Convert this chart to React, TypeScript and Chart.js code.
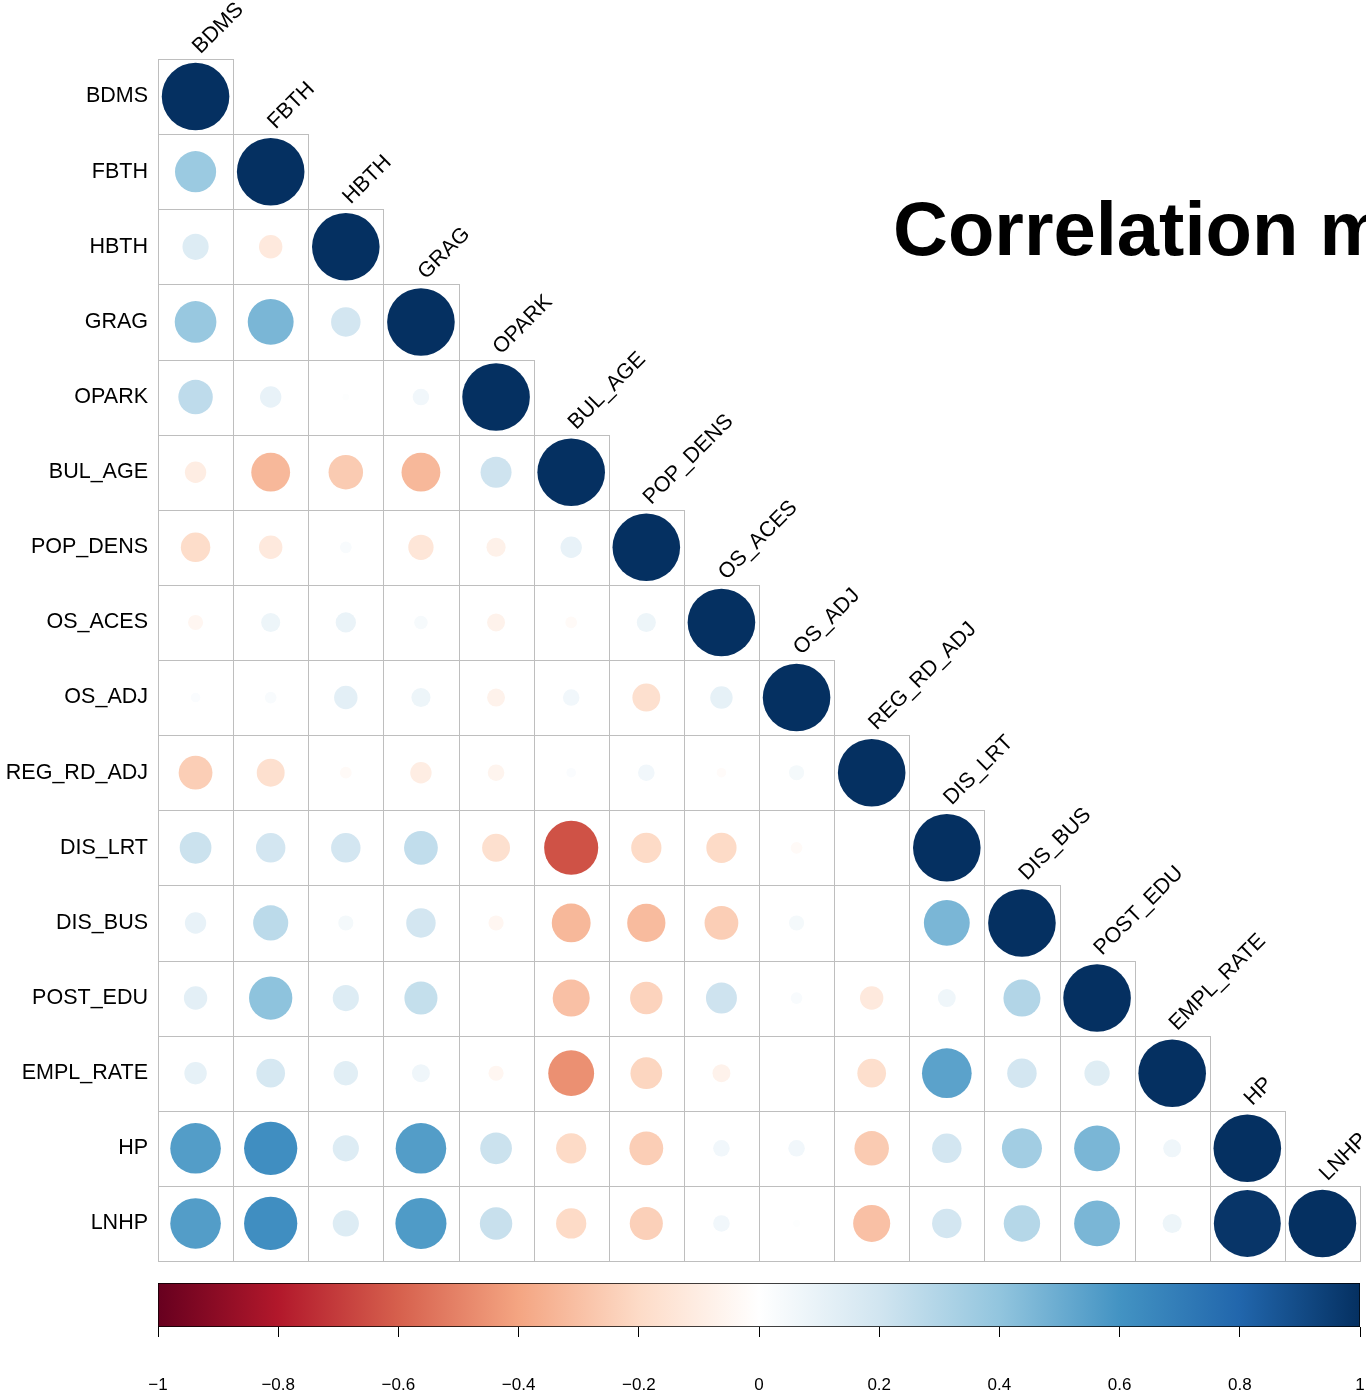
import { useEffect, useRef } from 'react';
import { Chart, registerables } from 'chart.js';

Chart.register(...registerables);

// Variable names (rows top-to-bottom, columns left-to-right)
const varNames = [
  'BDMS', 'FBTH', 'HBTH', 'GRAG', 'OPARK', 'BUL_AGE', 'POP_DENS', 'OS_ACES',
  'OS_ADJ', 'REG_RD_ADJ', 'DIS_LRT', 'DIS_BUS', 'POST_EDU', 'EMPL_RATE', 'HP', 'LNHP',
];

// Lower-triangle correlation coefficients, one row per variable (diagonal included)
const corrBDMS = [1];
const corrFBTH = [0.37, 1];
const corrHBTH = [0.15, -0.12, 1];
const corrGRAG = [0.38, 0.46, 0.19, 1];
const corrOPARK = [0.26, 0.1, 0.01, 0.06, 1];
const corrBUL_AGE = [-0.1, -0.33, -0.26, -0.33, 0.21, 1];
const corrPOP_DENS = [-0.19, -0.12, 0.03, -0.14, -0.08, 0.1, 1];
const corrOS_ACES = [-0.05, 0.08, 0.09, 0.04, -0.07, -0.03, 0.08, 1];
const corrOS_ADJ = [0.02, 0.03, 0.12, 0.08, -0.07, 0.06, -0.17, 0.11, 1];
const corrREG_RD_ADJ = [-0.25, -0.17, -0.03, -0.1, -0.06, 0.02, 0.06, -0.02, 0.05, 1];
const corrDIS_LRT = [0.22, 0.19, 0.19, 0.25, -0.17, -0.64, -0.2, -0.2, -0.03, 0.0, 1];
const corrDIS_BUS = [0.1, 0.27, 0.05, 0.19, -0.05, -0.33, -0.32, -0.25, 0.05, 0.0, 0.46, 1];
const corrPOST_EDU = [0.12, 0.41, 0.15, 0.24, 0.0, -0.3, -0.23, 0.21, 0.03, -0.12, 0.07, 0.3, 1];
const corrEMPL_RATE = [0.11, 0.18, 0.13, 0.07, -0.05, -0.46, -0.22, -0.07, 0.0, -0.18, 0.54, 0.19, 0.14, 1];
const corrHP = [0.56, 0.62, 0.15, 0.56, 0.22, -0.2, -0.25, 0.06, 0.06, -0.26, 0.19, 0.35, 0.46, 0.07, 1];
const corrLNHP = [0.56, 0.62, 0.15, 0.57, 0.23, -0.2, -0.24, 0.06, 0.01, -0.3, 0.19, 0.29, 0.46, 0.08, 0.98, 1];

const corrRows = [
  corrBDMS, corrFBTH, corrHBTH, corrGRAG, corrOPARK, corrBUL_AGE, corrPOP_DENS, corrOS_ACES,
  corrOS_ADJ, corrREG_RD_ADJ, corrDIS_LRT, corrDIS_BUS, corrPOST_EDU, corrEMPL_RATE, corrHP, corrLNHP,
];

// Diverging red-white-blue palette from -1 to 1
const palette = [
  '#67001F', '#B2182B', '#D6604D', '#F4A582', '#FDDBC7', '#FFFFFF',
  '#D1E5F0', '#92C5DE', '#4393C3', '#2166AC', '#053061',
];

// Colour bar ticks
const colorbarValues = [-1, -0.8, -0.6, -0.4, -0.2, 0, 0.2, 0.4, 0.6, 0.8, 1];
const colorbarLabels = ['\u22121', '\u22120.8', '\u22120.6', '\u22120.4', '\u22120.2', '0', '0.2', '0.4', '0.6', '0.8', '1'];

const titleText = 'Correlation matrix';

const FONT = '"Liberation Sans", Arial, Helvetica, sans-serif';

function hexToRgb(h: string) {
  const n = parseInt(h.slice(1), 16);
  return [(n >> 16) & 255, (n >> 8) & 255, n & 255];
}

function colorFor(v: number) {
  const t = ((Math.max(-1, Math.min(1, v)) + 1) / 2) * (palette.length - 1);
  const i = Math.min(Math.floor(t), palette.length - 2);
  const f = t - i;
  const a = hexToRgb(palette[i]);
  const b = hexToRgb(palette[i + 1]);
  const c = a.map((av, k) => Math.round(av + (b[k] - av) * f));
  return `rgb(${c[0]},${c[1]},${c[2]})`;
}

// Cell outlines for the lower triangle
const cellGridPlugin = {
  id: 'cellGrid',
  beforeDatasetsDraw(chart: any) {
    const { ctx } = chart;
    const xs = chart.scales.x;
    const ys = chart.scales.y;
    const cw = xs.getPixelForValue(1) - xs.getPixelForValue(0);
    const ch = ys.getPixelForValue(1) - ys.getPixelForValue(0);
    ctx.save();
    ctx.strokeStyle = '#BEBEBE';
    ctx.lineWidth = 1;
    for (let i = 0; i < varNames.length; i++) {
      for (let j = 0; j <= i; j++) {
        const l = Math.round(xs.getPixelForValue(j) - cw / 2);
        const r = Math.round(xs.getPixelForValue(j) + cw / 2);
        const t = Math.round(ys.getPixelForValue(i) - ch / 2);
        const b = Math.round(ys.getPixelForValue(i) + ch / 2);
        ctx.strokeRect(l + 0.5, t + 0.5, r - l, b - t);
      }
    }
    ctx.restore();
  },
};

// Rotated column labels above the diagonal, plus the title
const labelsPlugin = {
  id: 'matrixLabels',
  afterDraw(chart: any) {
    const { ctx } = chart;
    const xs = chart.scales.x;
    const ys = chart.scales.y;
    const ch = ys.getPixelForValue(1) - ys.getPixelForValue(0);
    ctx.save();
    ctx.fillStyle = '#000';
    ctx.font = `21.5px ${FONT}`;
    ctx.textAlign = 'left';
    ctx.textBaseline = 'alphabetic';
    varNames.forEach((name, j) => {
      const xc = xs.getPixelForValue(j);
      const top = ys.getPixelForValue(j) - ch / 2;
      ctx.save();
      ctx.translate(xc + 5, top - 4.5);
      ctx.rotate(-Math.PI / 4);
      ctx.fillText(name, 0, 0);
      ctx.restore();
    });
    ctx.font = `bold 76px ${FONT}`;
    ctx.fillText(titleText, 893, 255);
    ctx.restore();
  },
};

export default function App() {
  const matrixRef = useRef<HTMLCanvasElement>(null);
  const barRef = useRef<HTMLCanvasElement>(null);

  useEffect(() => {
    const points: { x: number; y: number; v: number }[] = [];
    corrRows.forEach((row, i) => row.forEach((v, j) => points.push({ x: j, y: i, v })));

    const matrix = new Chart(matrixRef.current as HTMLCanvasElement, {
      type: 'scatter',
      data: {
        datasets: [
          {
            data: points as any,
            showLine: false,
            pointBackgroundColor: (ctx: any) => (ctx.raw ? colorFor(ctx.raw.v) : 'rgba(0,0,0,0)'),
            pointBorderWidth: 0,
            pointHoverBorderWidth: 0,
            pointRadius: (ctx: any) => {
              if (!ctx.raw) return 0;
              const xs = ctx.chart.scales.x;
              const cell = Math.abs(xs.getPixelForValue(1) - xs.getPixelForValue(0));
              if (!isFinite(cell)) return 0;
              return 0.45 * cell * Math.sqrt(Math.abs(ctx.raw.v));
            },
            pointHoverRadius: (ctx: any) => {
              if (!ctx.raw) return 0;
              const xs = ctx.chart.scales.x;
              const cell = Math.abs(xs.getPixelForValue(1) - xs.getPixelForValue(0));
              if (!isFinite(cell)) return 0;
              return 0.45 * cell * Math.sqrt(Math.abs(ctx.raw.v));
            },
          } as any,
        ],
      },
      options: {
        animation: false,
        responsive: false,
        events: [],
        layout: { padding: { left: 0, right: 6, top: 59, bottom: 134 } },
        plugins: { legend: { display: false }, tooltip: { enabled: false } },
        scales: {
          x: { type: 'linear', min: -0.5, max: 15.5, display: false },
          y: {
            type: 'linear',
            min: -0.5,
            max: 15.5,
            reverse: true,
            position: 'left',
            afterBuildTicks: (axis: any) => {
              axis.ticks = varNames.map((_, i) => ({ value: i }));
            },
            afterFit: (axis: any) => {
              axis.width = 158;
            },
            grid: { display: false, drawTicks: false, tickLength: 0 },
            border: { display: false },
            ticks: {
              autoSkip: false,
              padding: 10,
              color: '#000',
              font: { family: FONT, size: 21.5 },
              callback: (value: any) => varNames[value] ?? '',
            },
          },
        },
      } as any,
      plugins: [cellGridPlugin, labelsPlugin],
    });

    const bar = new Chart(barRef.current as HTMLCanvasElement, {
      type: 'bar',
      data: {
        labels: [''],
        datasets: [
          {
            data: [[-1, 1]] as any,
            backgroundColor: (ctx: any) => {
              const area = ctx.chart.chartArea;
              if (!area) return '#fff';
              const g = ctx.chart.ctx.createLinearGradient(area.left, 0, area.right, 0);
              palette.forEach((c, k) => g.addColorStop(k / (palette.length - 1), c));
              return g;
            },
            borderColor: '#000',
            borderWidth: 1,
            borderSkipped: false,
            barPercentage: 1,
            categoryPercentage: 1,
          } as any,
        ],
      },
      options: {
        indexAxis: 'y',
        animation: false,
        responsive: false,
        events: [],
        layout: { padding: { left: 158, right: 6, top: 13, bottom: 0 } },
        plugins: { legend: { display: false }, tooltip: { enabled: false } },
        scales: {
          x: {
            type: 'linear',
            min: -1,
            max: 1,
            position: 'bottom',
            afterBuildTicks: (axis: any) => {
              axis.ticks = colorbarValues.map((v) => ({ value: v }));
            },
            afterFit: (axis: any) => {
              axis.height = 68;
              axis.paddingLeft = 0;
              axis.paddingRight = 0;
            },
            grid: { drawOnChartArea: false, drawTicks: true, tickLength: 10, color: '#000', lineWidth: 1 },
            border: { display: false },
            ticks: {
              autoSkip: false,
              maxRotation: 0,
              padding: 38,
              color: '#000',
              font: { family: FONT, size: 17 },
              callback: (_v: any, i: number) => colorbarLabels[i],
            },
          },
          y: { display: false },
        },
      } as any,
    });

    return () => {
      matrix.destroy();
      bar.destroy();
    };
  }, []);

  return (
    <div style={{ position: 'absolute', left: 0, top: 0, width: 1366, height: 1395, background: '#fff', overflow: 'hidden' }}>
      <canvas ref={matrixRef} width={1366} height={1395} style={{ position: 'absolute', left: 0, top: 0 }} />
      <canvas ref={barRef} width={1366} height={125} style={{ position: 'absolute', left: 0, top: 1270 }} />
    </div>
  );
}
